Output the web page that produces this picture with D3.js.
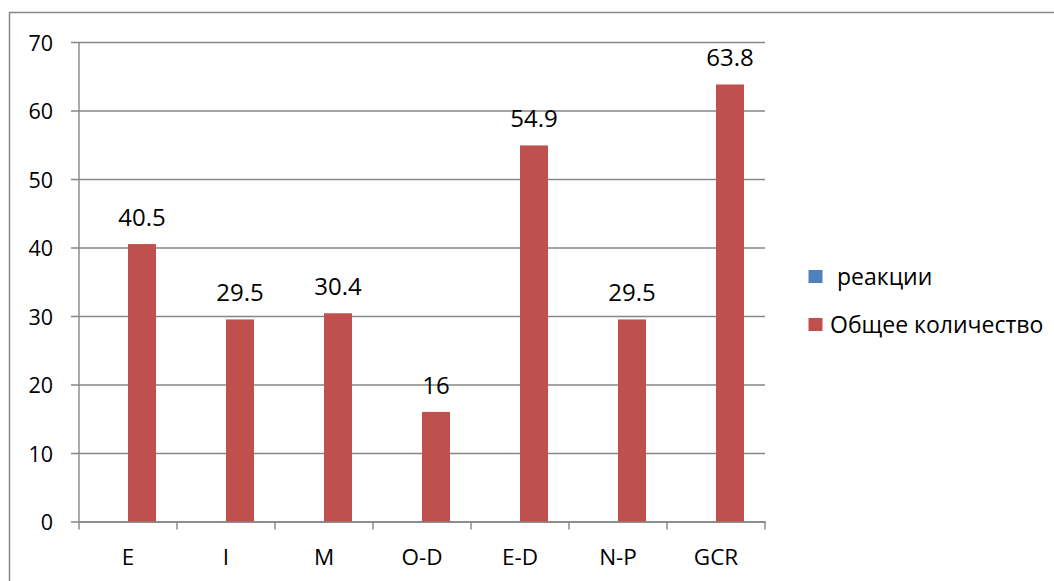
<!DOCTYPE html>
<html>
<head>
<meta charset="utf-8">
<script src="https://cdn.jsdelivr.net/npm/d3@7"></script>
<style>
  html, body { margin: 0; padding: 0; background: #fff; }
  svg { display: block; }
  text { font-family: "Open Sans", sans-serif; fill: #000; }
</style>
</head>
<body>
<svg id="chart" width="1054" height="581"></svg>
<script>
const categories = ["E", "I", "M", "O-D", "E-D", "N-P", "GCR"];
const seriesNames = ["реакции", "Общее количество"];
const reactions = [null, null, null, null, null, null, null];
const totals = [40.5, 29.5, 30.4, 16, 54.9, 29.5, 63.8];
const yTicks = [0, 10, 20, 30, 40, 50, 60, 70];
const colors = ["#4F81BD", "#C0504D"];

const svg = d3.select("#chart");
const gridColor = "#868686";

// outer chart border (extends past right/bottom edge as in reference)
svg.append("rect")
  .attr("x", 9.5).attr("y", 12.5)
  .attr("width", 1100).attr("height", 700)
  .attr("fill", "none").attr("stroke", gridColor).attr("stroke-width", 1.5);

const plotLeft = 79, plotRight = 765, plotTop = 42, plotBottom = 521.5;

const y = d3.scaleLinear().domain([0, 70]).range([plotBottom, plotTop]);
const x0 = d3.scaleBand().domain(categories).range([plotLeft, plotRight]).paddingInner(0).paddingOuter(0);
const x1 = d3.scaleBand().domain(seriesNames).range([0, x0.bandwidth()]).paddingInner(0).paddingOuter(0.75);

// gridlines
const yAxis = d3.axisLeft(y).tickValues(yTicks).tickSize(plotRight - plotLeft + 8).tickPadding(0).tickFormat(d3.format("d"));
const gy = svg.append("g").attr("transform", `translate(${plotRight},0)`).call(yAxis);
gy.select(".domain").remove();
gy.selectAll(".tick line").attr("stroke", gridColor).attr("stroke-width", 1.4);
gy.selectAll(".tick text").remove();

// y tick labels
svg.append("g").selectAll("text").data(yTicks).join("text")
  .attr("x", 53).attr("y", d => y(d) + 8.5)
  .attr("text-anchor", "end").attr("font-size", 21.5)
  .text(d => d);

// y axis line
svg.append("line")
  .attr("x1", plotLeft).attr("x2", plotLeft)
  .attr("y1", plotTop).attr("y2", plotBottom)
  .attr("stroke", gridColor).attr("stroke-width", 1.4);

// x axis with category boundary ticks
const xAxis = d3.axisBottom(x0).tickSize(0).tickFormat("");
const gx = svg.append("g").attr("transform", `translate(0,${plotBottom})`).call(xAxis);
gx.select(".domain").attr("stroke", gridColor).attr("stroke-width", 1.4);
gx.selectAll(".tick").remove();
const boundaries = categories.map(c => x0(c)).concat([x0(categories[categories.length - 1]) + x0.bandwidth()]);
svg.append("g").selectAll("line").data(boundaries).join("line")
  .attr("x1", d => d).attr("x2", d => d)
  .attr("y1", plotBottom).attr("y2", plotBottom + 8)
  .attr("stroke", gridColor).attr("stroke-width", 1.4);

// x labels
svg.append("g").selectAll("text").data(categories).join("text")
  .attr("x", d => x0(d) + x0.bandwidth() / 2)
  .attr("y", 564.5)
  .attr("text-anchor", "middle").attr("font-size", 22.5)
  .text(d => d);

// bars and value labels
const allSeries = [reactions, totals];
allSeries.forEach((vals, si) => {
  const data = categories.map((c, i) => ({ c, v: vals[i] })).filter(d => d.v != null);
  svg.append("g").selectAll("rect").data(data).join("rect")
    .attr("x", d => x0(d.c) + x1(seriesNames[si]))
    .attr("width", x1.bandwidth())
    .attr("y", d => y(d.v))
    .attr("height", d => y(0) - y(d.v))
    .attr("fill", colors[si]);
  svg.append("g").selectAll("text").data(data).join("text")
    .attr("x", d => x0(d.c) + x1(seriesNames[si]) + x1.bandwidth() / 2)
    .attr("y", d => y(d.v) - 18)
    .attr("text-anchor", "middle").attr("font-size", 24)
    .text(d => d.v);
});

// legend
const legendY = [276.5, 324.5];
const legendTextX = [837, 830];
const lg = svg.append("g");
seriesNames.forEach((name, i) => {
  lg.append("rect")
    .attr("x", 808.5).attr("y", legendY[i] - 6.5)
    .attr("width", 14).attr("height", 13)
    .attr("fill", colors[i]);
  lg.append("text")
    .attr("x", legendTextX[i]).attr("y", legendY[i] + 8)
    .attr("font-size", 23)
    .text(name);
});
</script>
</body>
</html>
